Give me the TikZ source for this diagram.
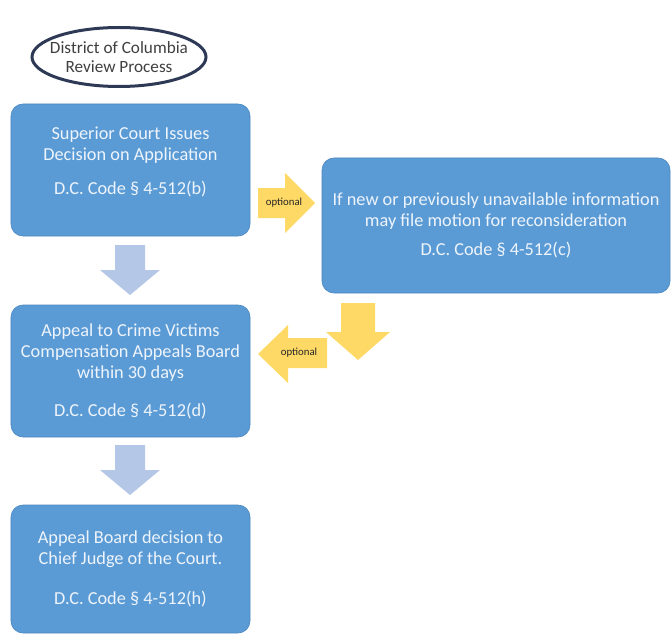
\documentclass[tikz,border=0pt]{standalone}
\usepackage{fontspec}
\setmainfont{Carlito}
\usetikzlibrary{shapes.geometric}

\definecolor{stageblue}{HTML}{5B9BD5}
\definecolor{stagerim}{HTML}{4A86C0}
\definecolor{stagetext}{HTML}{EEF4FB}
\definecolor{flowblue}{HTML}{B4C7E7}
\definecolor{optgold}{HTML}{FFD966}
\definecolor{rimnavy}{HTML}{2E3A55}

\begin{document}
\begin{tikzpicture}[
    x=1bp, y=-1bp,
    % title and stage boxes
    title/.style={ellipse, draw=rimnavy, line width=3bp, fill=white,
        minimum width=174bp, minimum height=59bp, inner xsep=-16bp, inner ysep=0bp,
        align=center, text=black!75, font=\fontsize{17.2bp}{19bp}\selectfont},
    stage/.style={rectangle, rounded corners=12bp, fill=stageblue, draw=stagerim,
        line width=0.6bp, minimum width=239bp, minimum height=132bp, inner sep=0pt,
        align=center, text=stagetext, font=\fontsize{18.3bp}{21bp}\selectfont},
    % block arrows
    flow/.style={fill=flowblue},
    opt/.style={fill=optgold},
    optlabel/.style={inner sep=0pt, text=black!85, font=\fontsize{10.8bp}{11bp}\selectfont},
]

\useasboundingbox (0,0) rectangle (671,634);

% =========================================================
% Title and stages
% =========================================================
\node[title] (title) at (119,57) {District of Columbia\\Review Process};

\node[stage] (superior) at (130.5,170)
    {Superior Court Issues\\Decision on Application\\[13bp]D.C. Code § 4-512(b)\\[-2bp]\mbox{}};
\node[stage, minimum width=348bp, minimum height=135bp] (recon) at (496,225.5)
    {If new or previously unavailable information\\may file motion for reconsideration\\[8bp]D.C. Code § 4-512(c)};
\node[stage] (appeal) at (130.5,371)
    {Appeal to Crime Victims\\Compensation Appeals Board\\within 30 days\\[17bp]D.C. Code § 4-512(d)};
\node[stage, minimum height=128bp] (board) at (130.5,569)
    {Appeal Board decision to\\Chief Judge of the Court.\\[19bp]D.C. Code § 4-512(h)};

% =========================================================
% Main flow (light blue arrows)
% =========================================================
\fill[flow] (115,245) -- (145,245) -- (145,270) -- (160,270) -- (130,295)
    -- (100,270) -- (115,270) -- cycle;
\fill[flow] (115,445) -- (145,445) -- (145,470) -- (160,470) -- (130,495)
    -- (100,470) -- (115,470) -- cycle;

% =========================================================
% Optional path (gold arrows)
% =========================================================
\fill[opt] (258,188) -- (285,188) -- (285,173) -- (315,203) -- (285,233)
    -- (285,218) -- (258,218) -- cycle;
\node[optlabel] (optR) at (284,203) {optional};

\fill[opt] (341,303) -- (375,303) -- (375,332) -- (390,332) -- (358,360)
    -- (326,332) -- (341,332) -- cycle;

\fill[opt] (327,338) -- (288,338) -- (288,325) -- (258,354) -- (288,383)
    -- (288,368) -- (327,368) -- cycle;
\node[optlabel] (optL) at (299,353) {optional};

\end{tikzpicture}
\end{document}
